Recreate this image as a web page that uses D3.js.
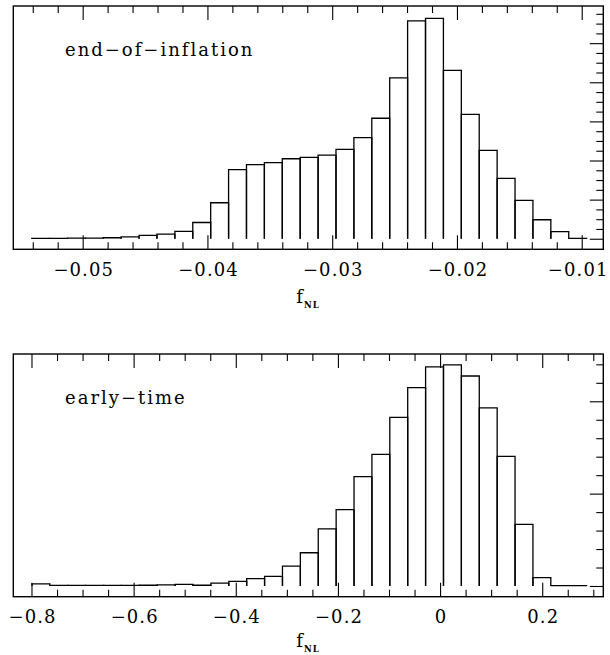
<!DOCTYPE html>
<html>
<head>
<meta charset="utf-8">
<script src="https://cdn.jsdelivr.net/npm/d3@7"></script>
<style>
body { margin: 0; background: #fff; }
text { font-family: "DejaVu Serif", serif; fill: #000; }
</style>
</head>
<body>
<div id="chart-area"></div>
<script>
/*
*    two f_NL histograms
*/

// DATA
var panelNames = ["end−of−inflation", "early−time"]

var endBinStart = -0.05409
var endBinWidth = 0.001435
var endCounts = [2, 2, 3, 3, 5, 10, 17, 24, 38, 83,
	184, 353, 379, 389, 409, 416, 428, 457, 517, 616,
	822, 1114, 1127, 861, 636, 452, 309, 196, 97, 36,
	2]

var earlyBinStart = -0.799
var earlyBinWidth = 0.03503
var earlyCounts = [11, 3, 3, 3, 3, 3, 4, 6, 9, 4,
	15, 25, 40, 52, 107, 180, 309, 413, 592, 713,
	913, 1074, 1186, 1197, 1137, 964, 702, 334, 45, 2,
	2]

var endTicks = [-0.05, -0.04, -0.03, -0.02, -0.01]
var earlyTicks = [-0.8, -0.6, -0.4, -0.2, 0, 0.2]

var width = 610
var height = 655

var svg = d3.select("#chart-area").append("svg")
.attr("width", width)
.attr("height", height)

var left = 13.3
var right = 603.3
var ls = 1.1

// one panel
var drawPanel = (opt) => {
	var x = d3.scaleLinear()
	.domain(opt.xDomain)
	.range([left, right])

	var y = d3.scaleLinear()
	.domain(opt.yDomain)
	.range([opt.bottom, opt.top])

	var g = svg.append("g")

	// bins
	var bins = opt.counts.map((c, i) => ({
		x0: opt.binStart + i * opt.binWidth,
		x1: opt.binStart + (i + 1) * opt.binWidth,
		n: c
	}))

	g.selectAll("path.bar")
	.data(bins)
	.enter().append("path")
	.attr("class", "bar")
	.attr("fill", "none")
	.attr("stroke", "#000")
	.attr("stroke-width", 1.3)
	.attr("d", d => "M" + x(d.x0) + "," + y(0) + "V" + y(d.n) + "H" + x(d.x1) + "V" + y(0))

	// ticks
	var minorX = opt.minorX
	var tickStyle = (sel) => {
		sel.selectAll(".domain").remove()
		sel.selectAll(".tick line").attr("stroke", "#000").attr("stroke-width", 1.1)
	}

	var labels = g.append("g")
	.attr("transform", "translate(0," + opt.bottom + ")")
	.call(d3.axisBottom(x).tickValues(opt.ticks).tickSizeInner(-14).tickSizeOuter(0)
		.tickPadding(14).tickFormat(opt.fmt))
	.call(tickStyle)
	.selectAll("text")
	.attr("font-size", "18px")
	.attr("letter-spacing", ls + "px")
	.attr("dx", (ls / 2) + "px")
	.attr("font-family", "DejaVu Serif")

	// keep the last label inside the window
	labels.each(function(d) {
		var b = this.getBoundingClientRect()
		if (b.right > width - 1) {
			d3.select(this).attr("dx", (ls / 2 - (b.right - width + 1.5)) + "px")
		}
	})

	g.append("g")
	.attr("transform", "translate(0," + opt.bottom + ")")
	.call(d3.axisBottom(x).tickValues(minorX).tickSizeInner(-7).tickSizeOuter(0).tickFormat(""))
	.call(tickStyle)

	g.append("g")
	.attr("transform", "translate(0," + opt.top + ")")
	.call(d3.axisTop(x).tickValues(opt.ticks).tickSizeInner(-14).tickSizeOuter(0).tickFormat(""))
	.call(tickStyle)

	g.append("g")
	.attr("transform", "translate(0," + opt.top + ")")
	.call(d3.axisTop(x).tickValues(minorX).tickSizeInner(-7).tickSizeOuter(0).tickFormat(""))
	.call(tickStyle)

	g.append("g")
	.attr("transform", "translate(" + right + ",0)")
	.call(d3.axisRight(y).tickValues(opt.majorY).tickSizeInner(-13.5).tickSizeOuter(0).tickFormat(""))
	.call(tickStyle)

	g.append("g")
	.attr("transform", "translate(" + right + ",0)")
	.call(d3.axisRight(y).tickValues(opt.minorY).tickSizeInner(-7).tickSizeOuter(0).tickFormat(""))
	.call(tickStyle)

	// frame
	g.append("rect")
	.attr("x", left)
	.attr("y", opt.top)
	.attr("width", right - left)
	.attr("height", opt.bottom - opt.top)
	.attr("fill", "none")
	.attr("stroke", "#000")
	.attr("stroke-width", 1.4)

	// panel name
	g.append("text")
	.attr("x", 65)
	.attr("y", opt.top + 50)
	.attr("font-size", "18px")
	.attr("letter-spacing", "2px")
	.text(opt.name)

	// X Label
	var lab = g.append("text")
	.attr("x", (left + right) / 2 - 12)
	.attr("y", opt.bottom + opt.labelOff)
	.attr("font-size", "18px")
	lab.append("tspan").text("f")
	lab.append("tspan")
	.attr("dy", 5)
	.attr("dx", 1)
	.attr("font-size", "8.5px")
	.attr("font-weight", "bold")
	.attr("letter-spacing", "1px")
	.text("NL")
}

var endMinor = d3.range(-27, -4).filter(i => i % 5 !== 0).map(i => i * 0.002)
var earlyMinor = d3.range(-16, 7).filter(i => i % 4 !== 0).map(i => i * 0.05)

drawPanel({
	name: panelNames[0],
	top: 6,
	bottom: 249.3,
	labelOff: 54,
	xDomain: [-0.05556, -0.00827],
	yDomain: [-54, 1190],
	binStart: endBinStart,
	binWidth: endBinWidth,
	counts: endCounts,
	ticks: endTicks,
	minorX: endMinor,
	fmt: d => d3.format(".2f")(d),
	majorY: d3.range(0, 1001, 200),
	minorY: d3.range(50, 1151, 50).filter(v => v % 200 !== 0)
})

drawPanel({
	name: panelNames[1],
	top: 354,
	bottom: 596.7,
	labelOff: 50,
	xDomain: [-0.8356, 0.3196],
	yDomain: [-58, 1256],
	binStart: earlyBinStart,
	binWidth: earlyBinWidth,
	counts: earlyCounts,
	ticks: earlyTicks,
	minorX: earlyMinor,
	fmt: d => Math.abs(d) < 1e-9 ? "0" : d3.format(".1f")(d),
	majorY: [0, 500, 1000],
	minorY: d3.range(100, 1201, 100).filter(v => v % 500 !== 0)
})
</script>
</body>
</html>
